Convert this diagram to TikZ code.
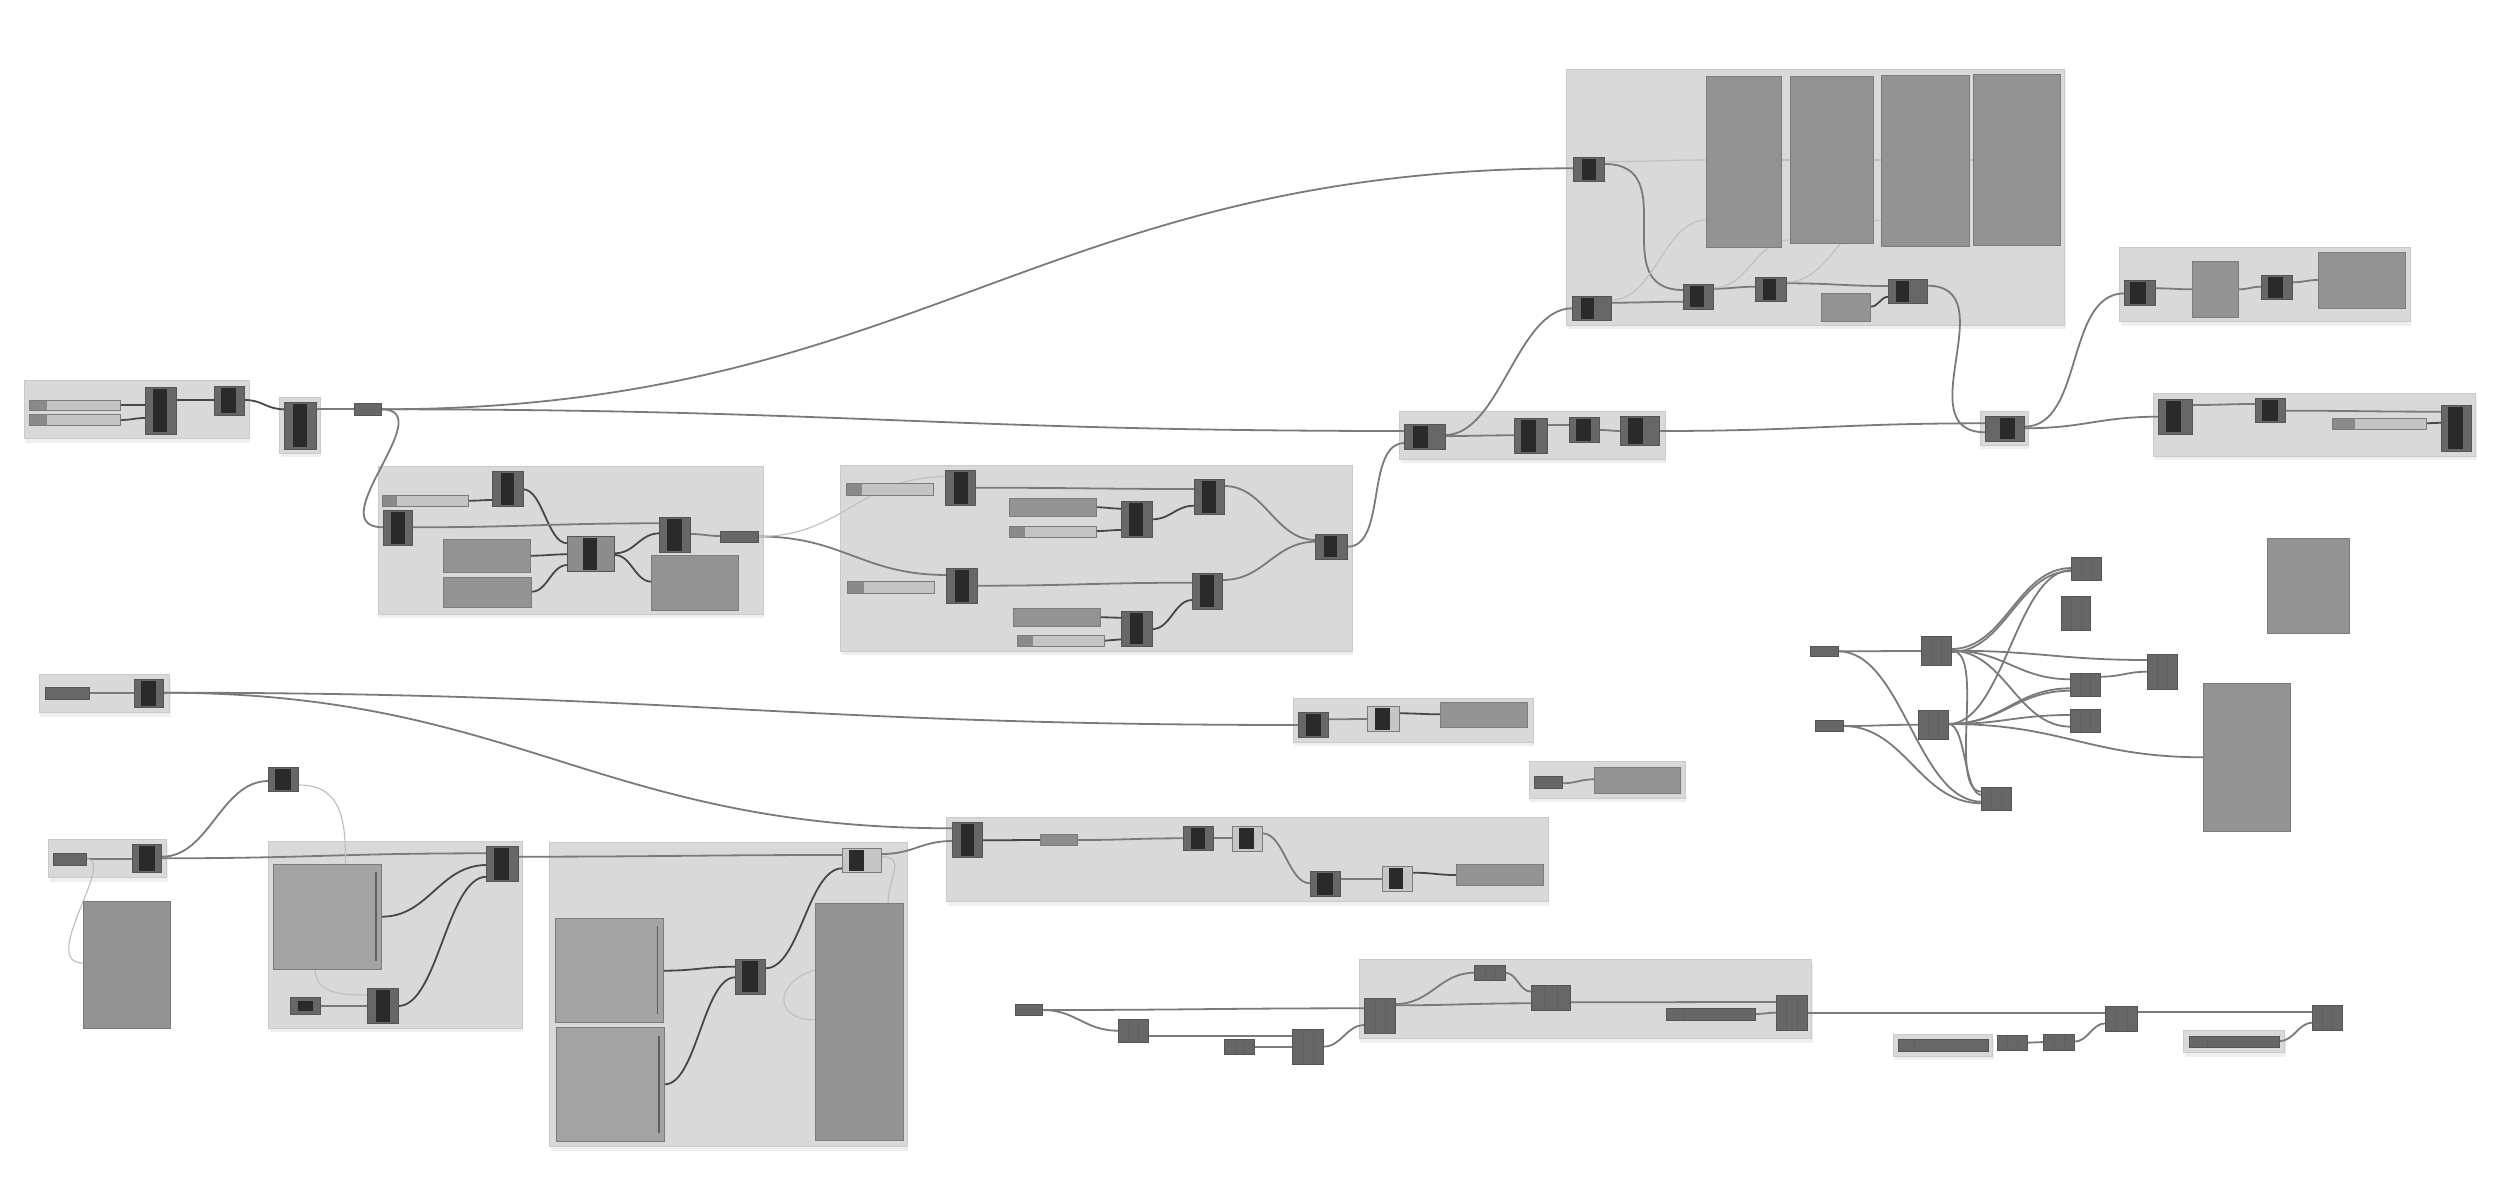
\documentclass[tikz,border=0pt]{standalone}
\usetikzlibrary{shadows}
\pgfdeclarelayer{grp}\pgfdeclarelayer{wir}
\pgfsetlayers{grp,wir,main}
\definecolor{grpfill}{HTML}{D9D9D9}
\definecolor{grpline}{HTML}{CACACA}
\definecolor{cmpfill}{HTML}{676767}
\definecolor{cmpline}{HTML}{555555}
\definecolor{barc}{HTML}{2A2A2A}
\definecolor{lightfill}{HTML}{C6C6C6}
\definecolor{midfill}{HTML}{8C8C8C}
\definecolor{pnlfill}{HTML}{939393}
\definecolor{pnlline}{HTML}{7B7B7B}
\definecolor{pnlbfill}{HTML}{A3A3A3}
\definecolor{sldfill}{HTML}{C4C4C4}
\definecolor{sqc}{HTML}{8A8A8A}
\definecolor{divc}{HTML}{5E5E5E}
\definecolor{wirec}{HTML}{7A7A7A}
\definecolor{wiredark}{HTML}{474747}
\definecolor{wirefaint}{HTML}{BEBEBE}
\tikzset{
  boxst/.style={inner sep=0pt,outer sep=0pt,line width=0.9pt},
  grpst/.style={boxst,fill=grpfill,draw=grpline,drop shadow={opacity=0.12,shadow xshift=1pt,shadow yshift=-4pt}},
  cmpst/.style={boxst,fill=cmpfill,draw=cmpline},
  lcmpst/.style={boxst,fill=lightfill,draw=pnlline},
  mcmpst/.style={boxst,fill=midfill,draw=cmpline},
  pnlst/.style={boxst,fill=pnlfill,draw=pnlline},
  pnlbst/.style={boxst,fill=pnlbfill,draw=pnlline},
  sldst/.style={boxst,fill=sldfill,draw=pnlline},
  prmst/.style={boxst,fill=cmpfill,draw=cmpline},
  mprmst/.style={boxst,fill=midfill,draw=pnlline},
  wst/.style={draw=wirec,line width=1.8pt},
  dst/.style={draw=wiredark,line width=1.8pt},
  fst/.style={draw=wirefaint,line width=1.1pt}
}
\newdimen\cnxa \newdimen\cnxb
\newcommand{\bx}[6][cmpst]{\pgfmathsetmacro\bxcx{(#3+#5)/2}\pgfmathsetmacro\bxcy{(#4+#6)/2}\pgfmathsetmacro\bxw{#5-#3}\pgfmathsetmacro\bxh{#6-#4}\node[#1,minimum width=\bxw pt,minimum height=\bxh pt] (#2) at (\bxcx,\bxcy) {};}
\newcommand{\bc}[8][cmpst]{\bx[#1]{#2}{#3}{#4}{#5}{#6}\fill[barc] (#7,{#4+1.6}) rectangle (#8,{#6-1.6});}
\newcommand{\sld}[6]{\bx[sldst]{#1}{#2}{#3}{#4}{#5}\fill[sqc] (#2,#3) rectangle (#6,#5);\draw[pnlline,line width=0.9pt] (#2,#3) rectangle (#4,#5);}
\newcommand{\dcm}[5]{\bx[cmpst]{#1}{#2}{#3}{#4}{#5}\draw[divc,line width=0.6pt] ({#2+(#4-#2)/3},#3) -- ({#2+(#4-#2)/3},#5) ({#2+2*(#4-#2)/3},#3) -- ({#2+2*(#4-#2)/3},#5);}
\newcommand{\pnb}[5]{\bx[pnlbst]{#1}{#2}{#3}{#4}{#5}\draw[divc,line width=1.4pt] ({#4-6},{#3+8}) -- ({#4-6},{#5-8});}
\newcommand{\cn}[5][wst]{\pgfextractx{\cnxa}{\pgfpointanchor{#2}{east}}\pgfextractx{\cnxb}{\pgfpointanchor{#4}{west}}\pgfmathsetmacro\cnd{max(0.45*abs(\cnxb-\cnxa),0.25*abs(#5-#3),8)}\draw[#1] (#2.east |- 0,#3) .. controls +(\cnd pt,0pt) and +(-\cnd pt,0pt) .. (#4.west |- 0,#5);}
\begin{document}
\begin{tikzpicture}[x=1pt,y=-1pt]
\begin{pgfonlayer}{grp}
\fill[white] (0,0) rectangle (2500,1177);
\useasboundingbox (0,0) rectangle (2500,1177);
\bx[grpst]{gA}{24}{380.7}{249}{438.7}
\bx[grpst]{gB}{279.6}{397.3}{320.4}{453.3}
\bx[grpst]{gD}{378}{466.3}{763.3}{614.3}
\bx[grpst]{gE}{1566.8}{69.3}{2064.9}{325.3}
\bx[grpst]{gH}{1399.8}{411}{1665.3}{459.3}
\bx[grpst]{gG}{1980.3}{411.7}{2028.4}{445}
\bx[grpst]{gI}{2119.8}{247.3}{2410}{321.7}
\bx[grpst]{gJ}{2153.8}{393.3}{2475.9}{456}
\bx[grpst]{gF}{840.5}{465}{1352}{651}
\bx[grpst]{gL}{39.4}{674}{169.7}{712.7}
\bx[grpst]{gR}{48.5}{839}{166.7}{877.7}
\bx[grpst]{gS}{268.5}{841}{522.4}{1028.3}
\bx[grpst]{gT}{549.7}{842.7}{907.3}{1146.7}
\bx[grpst]{gV}{1293.5}{698.3}{1533.2}{742.3}
\bx[grpst]{gW}{1529}{761}{1685}{798.3}
\bx[grpst]{gU}{946.9}{817}{1548.4}{901.7}
\bx[grpst]{gY}{1359.3}{959.3}{1811.9}{1038.7}
\bx[grpst]{gZa}{1893.7}{1034}{1992.9}{1056}
\bx[grpst]{gZb}{2183.7}{1030.7}{2284.7}{1052.7}
\end{pgfonlayer}
% group A, B, C
\sld{sA1}{29.6}{400}{120.4}{410.7}{47.4}
\sld{sA2}{29.6}{414.3}{120.4}{425.3}{47.4}
\bc{A1}{145.4}{387.7}{176}{434}{153}{167.3}
\bc{A2}{214.3}{386}{244.9}{415}{221}{236}
\bc{B}{284.2}{402.3}{316.3}{449}{293.4}{307.1}
\bx[prmst]{C}{354.6}{403.7}{381.6}{415}
% group D
\sld{sD}{382.1}{495.3}{468.9}{506.3}{397.4}
\bc{D2}{492.9}{471.3}{523}{506.7}{501}{514.3}
\bc{D1}{383.2}{510.7}{412.8}{545.7}{390.8}{405.1}
\bx[pnlst]{pD1}{443.4}{539.7}{530.6}{572.3}
\bx[pnlst]{pD2}{443.9}{577.3}{531.6}{607.7}
\bc[mcmpst]{D3}{567.3}{536.7}{614.8}{571.7}{583.2}{597}
\bc{D4}{659.7}{517}{690.3}{552.3}{667.3}{682.1}
\bx[pnlst]{pD3}{651.5}{555}{738.3}{610}
\bx[prmst]{D5}{720.4}{531}{758.7}{542}
% group E
\bx[pnlst]{P1}{1706.8}{76.7}{1781.5}{247.7}
\bx[pnlst]{P2}{1790.3}{76}{1873.4}{243.3}
\bx[pnlst]{P3}{1881.8}{75}{1969.1}{246}
\bx[pnlst]{P4}{1973}{74}{2060.3}{245.3}
\bc{E1}{1573.9}{157}{1604.7}{181.3}{1581.6}{1595.6}
\bc{E2}{1572.1}{296.7}{1611.7}{320.7}{1580.5}{1593.8}
\bc{E3}{1683.3}{284.3}{1713.5}{309}{1690.3}{1704.3}
\bc{E4}{1755.2}{277}{1786.8}{301.3}{1762.6}{1776.2}
\bx[pnlst]{pE5}{1821.1}{293.7}{1870.6}{321}
\bc{E6}{1888.5}{279}{1927}{303.7}{1895.5}{1908.8}
% group H, G
\bc{H1}{1404.8}{424.7}{1445.1}{449.3}{1413.3}{1428.1}
\bc{H2}{1514.5}{418.3}{1547.1}{453.3}{1520.9}{1535.7}
\bc{H3}{1569}{417.7}{1599.5}{442.7}{1576.1}{1591}
\bc{H4}{1620.7}{416.7}{1659.6}{445.3}{1627.8}{1642.6}
\bc{G}{1985.3}{416}{2024.2}{441}{2000.1}{2015}
% group I
\bc{I1}{2124.7}{280.7}{2155.2}{305.3}{2130.4}{2146}
\bx[pnlst]{pI2}{2192}{261.7}{2238.7}{317.3}
\bc{I3}{2261.3}{275.3}{2292.5}{299.7}{2267.7}{2282.6}
\bx[pnlst]{pI4}{2318}{252.7}{2405}{308.3}
% group J
\bc{J1}{2158.7}{399.3}{2192.7}{434}{2165.8}{2181.3}
\bc{J2}{2255.7}{398.7}{2285.4}{422.7}{2262}{2277.7}
\sld{sJ}{2332.1}{418.3}{2426.3}{429.3}{2354.8}
\bc{J3}{2441.9}{405}{2471.6}{451}{2447.5}{2463.1}
% group F
\sld{sF1}{846.1}{483.3}{933.1}{495}{862.3}
\bc{F2}{945}{470}{975.9}{505.3}{953.5}{967.5}
\bx[pnlst]{pF3}{1009.2}{498.7}{1096.6}{516.7}
\sld{sF4}{1009.2}{526}{1096.6}{537}{1025}
\bc{F5}{1121.8}{501.7}{1152}{537.3}{1129.2}{1142.9}
\bc{F6}{1194.4}{479.3}{1224.2}{514.7}{1201.8}{1215.5}
\bc{F7}{946.8}{568}{977.7}{603.3}{954.9}{968.9}
\sld{sF8}{847.5}{581.7}{934.5}{593.3}{864}
\bx[pnlst]{pF9}{1013.8}{608.7}{1100.8}{626}
\sld{sF10}{1017.7}{635}{1104.6}{646.7}{1033.1}
\bc{F11}{1121.8}{611}{1152.7}{646}{1129.9}{1143.2}
\bc{F12}{1192.3}{573.7}{1222.8}{609}{1200}{1214}
\bc{F13}{1315.8}{534.3}{1347.4}{559}{1323.5}{1337.2}
% K cluster
\bx[prmst]{K1}{1810.6}{646}{1838.2}{656.7}
\bx[prmst]{K2}{1815.6}{720.3}{1843.1}{731.3}
\dcm{K3}{1921.6}{636.7}{1951.4}{665}
\dcm{K4}{1918.5}{710.7}{1948.4}{739}
\dcm{K5}{2071.6}{557.3}{2101.5}{580.3}
\dcm{K6}{2061.3}{596.3}{2090.8}{630}
\dcm{K7}{2147.4}{654.7}{2177.2}{689.3}
\dcm{K8}{2070.8}{673.3}{2100.7}{696.7}
\dcm{K9}{2070.8}{709}{2100.3}{732.3}
\dcm{K10}{1981.7}{787}{2011.2}{810.7}
\bx[pnlst]{pK11}{2267.2}{538.7}{2349.8}{633.3}
\bx[pnlst]{pK12}{2203.6}{683.7}{2290.9}{831.3}
% L, Q, R
\bx[prmst]{L1}{45.5}{687.3}{89.7}{699}
\bc{L2}{134.5}{679.3}{163.6}{707.3}{140.6}{156.4}
\bc{Q}{268.5}{767.7}{298.8}{791.7}{274.5}{290.9}
\bx[prmst]{R1}{53.3}{853.3}{86.7}{865}
\bc{R2}{132.1}{844.3}{161.8}{872.7}{139.4}{154.5}
\bx[pnlst]{pR3}{83}{901}{170.3}{1028.3}
% S
\pnb{pS2}{273.9}{864.3}{381.8}{969}
\bx[prmst]{S3}{290.9}{997.7}{320.6}{1014}
\fill[barc] (298.2,1000.7) rectangle (312.7,1011);
\bc{S4}{367.9}{988.3}{398.2}{1023.3}{375.8}{389.7}
\bc{S1}{486.7}{846.7}{518.2}{881.7}{493.9}{509.1}
% T
\pnb{pT1}{555.2}{918.3}{663.6}{1022.3}
\pnb{pT2}{556.4}{1027.7}{664.8}{1141}
\bc{T3}{735.2}{959.3}{765.5}{994}{742.4}{757.6}
\bx[pnlst]{pT4}{815.8}{903.3}{903}{1140.7}
\bc[lcmpst]{T5}{842.4}{848.3}{881.8}{872.3}{848.5}{863.6}
% V, W
\bc{V1}{1298.6}{712.7}{1328.9}{737.3}{1305.9}{1321.1}
\bc[lcmpst]{V2}{1367.9}{706.7}{1399.1}{731.7}{1375.2}{1390}
\bx[pnlst]{pV3}{1440.5}{702.7}{1527.7}{727.3}
\bx[prmst]{W1}{1534.6}{776.7}{1562.1}{788.7}
\bx[pnlst]{pW2}{1594.3}{767}{1680}{793.3}
% U
\bc{U1}{952.4}{822.7}{982.7}{857.7}{960.7}{974.4}
\bx[mprmst]{U2}{1040.1}{834}{1077.7}{845.3}
\bc{U3}{1183.3}{826.7}{1213.2}{850.7}{1190.7}{1205.4}
\bc[lcmpst]{U4}{1232.5}{826}{1262.3}{851}{1239.4}{1253.6}
\bc{U5}{1310}{871.7}{1340.4}{896.7}{1317.4}{1332.6}
\bc[lcmpst]{U6}{1382.1}{866.7}{1412.9}{891}{1389}{1402.8}
\bx[pnlst]{pU7}{1456.5}{864.3}{1543.8}{885.7}
% bottom row
\bx[prmst]{X1}{1015.2}{1004.3}{1042.3}{1015}
\dcm{X2}{1118.2}{1019}{1148.5}{1042.7}
\dcm{X3}{1224.9}{1039.3}{1254.7}{1054.3}
\dcm{X4}{1292.7}{1029.3}{1323}{1064.3}
\dcm{Y1}{1364.8}{998.7}{1395.7}{1033.7}
\dcm{Y2}{1474.8}{965}{1505.1}{980.7}
\dcm{Y3}{1531.2}{985.3}{1570.2}{1010}
\bx[prmst]{Y4}{1666.7}{1008.7}{1755}{1020}
\draw[divc,line width=0.6pt] (1684,1008.7) -- (1684,1020);
\dcm{Y5}{1776.2}{995.3}{1807.6}{1030.3}
\bx[prmst]{Z1}{1898.9}{1039.3}{1988.4}{1051}
\draw[divc,line width=0.6pt] (1914.7,1039.3) -- (1914.7,1051);
\dcm{Z2}{1997.8}{1035.7}{2027.6}{1050.7}
\dcm{Z4}{2043.8}{1034.3}{2074}{1050}
\dcm{Z3}{2105.9}{1006.7}{2137.4}{1031}
\bx[prmst]{Z5}{2189}{1036}{2279.5}{1047.7}
\draw[divc,line width=0.6pt] (2207.6,1036) -- (2207.6,1047.7);
\dcm{Z6}{2312.8}{1005.7}{2342.6}{1030}
% wires
\begin{pgfonlayer}{wir}
\cn[dst]{sA1}{405}{A1}{405}
\cn[dst]{sA2}{420}{A1}{418}
\cn[dst]{A1}{400}{A2}{400}
\cn[dst]{A2}{400}{B}{409.3}
\cn{B}{409.3}{C}{409.3}
\cn{C}{409.3}{E1}{168.3}
\cn{C}{409.3}{H1}{431}
\draw[wst] (C.east) .. controls +(60,0) and +(-65,0) .. (D1.west |- 0,527.3);
\cn[dst]{sD}{500.7}{D2}{500}
\cn[dst]{D2}{489.3}{D3}{543.3}
\cn[dst]{pD1}{555.7}{D3}{554.3}
\cn[dst]{pD2}{591.7}{D3}{565}
\cn[dst]{D3}{553.3}{D4}{533.3}
\cn[dst]{D3}{555}{pD3}{581.7}
\cn{D1}{527.3}{D4}{523.3}
\cn{D4}{534}{D5}{536}
\cn{D5}{536.5}{F7}{575}
\cn[fst]{D5}{536.5}{F2}{476.7}
\cn{F2}{487.7}{F6}{489}
\cn[dst]{pF3}{507.3}{F5}{508.7}
\cn[dst]{sF4}{531}{F5}{530}
\cn[dst]{F5}{519.3}{F6}{505.7}
\cn{F6}{486}{F13}{540}
\cn{F7}{585.7}{F12}{582.7}
\cn[dst]{pF9}{617.3}{F11}{617.7}
\cn[dst]{sF10}{640.7}{F11}{639.3}
\cn[dst]{F11}{629}{F12}{600}
\cn{F12}{580}{F13}{541.7}
\draw[wst] (F13.east |- 0,546.7) .. controls +(40,0) and +(-40,0) .. (H1.west |- 0,443);
\cn{H1}{436}{H2}{435.3}
\draw[wst] (H1.east |- 0,435) .. controls +(55,0) and +(-55,0) .. (E2.west |- 0,308.3);
\cn{H2}{425}{H3}{425}
\cn{H3}{430}{H4}{431}
\cn{H4}{431}{G}{423.3}
\draw[wst] (E1.east |- 0,164) .. controls +(80,0) and +(-80,0) .. (E3.west |- 0,290);
\cn[fst]{E1}{161.7}{P1}{160}
\cn{E2}{302.7}{E3}{301.7}
\cn[fst]{E2}{300}{P1}{220}
\cn{E3}{288.7}{E4}{286.7}
\cn[fst]{E3}{288}{P2}{240}
\cn{E4}{283.3}{E6}{286}
\cn[fst]{E4}{282}{P3}{220}
\cn[fst]{P1}{160}{P2}{160}
\cn[fst]{P2}{160}{P3}{160}
\cn[fst]{P3}{160}{P4}{160}
\cn[dst]{pE5}{306.7}{E6}{296.7}
\draw[wst] (E6.east |- 0,285.7) .. controls +(80,0) and +(-80,0) .. (G.west |- 0,432.3);
\draw[wst] (G.east |- 0,426.7) .. controls +(60,0) and +(-60,0) .. (I1.west |- 0,293.3);
\cn{G}{428.3}{J1}{416.7}
\cn{I1}{288.3}{pI2}{289.3}
\cn{pI2}{289.3}{I3}{286.7}
\cn{I3}{282.3}{pI4}{280}
\cn{J1}{405}{J2}{404}
\cn{J2}{410.7}{J3}{411.7}
\cn[dst]{sJ}{423.3}{J3}{422.7}
% K cluster
\cn{K1}{651.3}{K3}{651}
\cn{K1}{651.3}{K10}{801.7}
\cn{K2}{726}{K4}{724.7}
\cn{K2}{726}{K10}{803.3}
\cn{K3}{649}{K5}{568}
\cn{K3}{652}{K5}{571}
\cn{K3}{650.7}{K7}{660}
\cn{K3}{650.7}{K8}{679.3}
\cn{K3}{650.7}{K9}{726.7}
\cn{K3}{650.7}{K10}{791.7}
\cn{K4}{724}{K5}{570}
\cn{K4}{724}{K8}{688.3}
\cn{K4}{724}{K8}{690.7}
\cn{K4}{724}{K9}{715}
\cn{K4}{724}{pK12}{757.3}
\cn{K4}{724}{K10}{795}
\cn{K8}{676.7}{K7}{671.7}
% L, R, S, T
\cn{L1}{693}{L2}{693}
\cn{L2}{692.7}{V1}{725}
\cn{L2}{692.7}{U1}{828.3}
\cn{R1}{859}{R2}{859}
\cn{R2}{856.7}{Q}{781}
\cn{R2}{858.3}{S1}{853.3}
\draw[fst] (R1.east) .. controls +(30,0) and +(-45,0) .. (pR3.west |- 0,963);
\cn{S3}{1006}{S4}{1006}
\cn[dst]{pS2}{916.7}{S1}{865}
\cn[dst]{S4}{1006}{S1}{876.7}
\cn{S1}{856.7}{T5}{855}
\draw[fst] (Q.east |- 0,785) .. controls +(45,0) and +(0,-40) .. (pS2.north -| 345.5,0);
\draw[fst] (pS2.south -| 315,0) .. controls +(0,25) and +(-25,0) .. (S4.west |- 0,995);
\cn[dst]{pT1}{970.7}{T3}{966.7}
\cn[dst]{pT2}{1084.3}{T3}{977.3}
\cn[dst]{T3}{968.3}{T5}{868.3}
\cn{T5}{854}{U1}{841}
\draw[fst] (T5.east |- 0,856.7) .. controls +(25,0) and +(0,-25) .. (pT4.north -| 888,0);
\draw[fst] (pT4.west |- 0,970) .. controls +(-40,10) and +(-45,0) .. (pT4.west |- 0,1020);
% V, W, U
\cn{V1}{719.3}{V2}{719}
\cn[dst]{V2}{713.3}{pV3}{714.3}
\cn{W1}{783.3}{pW2}{779.3}
\cn[dst]{U1}{840.3}{U2}{840}
\cn{U2}{840}{U3}{838.3}
\cn{U3}{838.3}{U4}{838.3}
\cn{U4}{833.3}{U5}{883.3}
\cn{U5}{879}{U6}{879}
\cn[dst]{U6}{872.7}{pU7}{875}
% bottom
\cn{X1}{1010}{Y1}{1008.3}
\cn{X1}{1010}{X2}{1030.7}
\cn{X2}{1036}{X4}{1036}
\cn{X3}{1047.3}{X4}{1047.3}
\cn{X4}{1046.7}{Y1}{1025}
\cn{Y1}{1004}{Y2}{972.7}
\cn{Y1}{1005.3}{Y3}{1003.3}
\cn{Y2}{972.7}{Y3}{991.7}
\cn{Y3}{1002.3}{Y5}{1002}
\cn{Y4}{1014}{Y5}{1012.7}
\cn{Y5}{1012.7}{Z3}{1012.7}
\cn{Z3}{1012.3}{Z6}{1012.3}
\cn{Z2}{1042.7}{Z4}{1042}
\cn{Z4}{1041.7}{Z3}{1023.3}
\cn{Z5}{1041}{Z6}{1022.7}
\end{pgfonlayer}
\end{tikzpicture}
\end{document}
